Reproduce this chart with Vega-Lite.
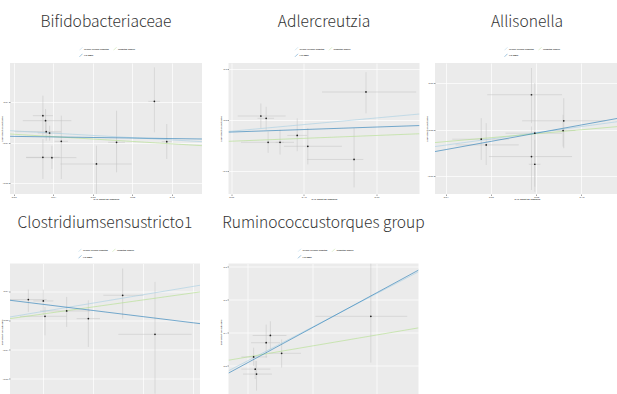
{
  "$schema": "https://vega.github.io/schema/vega-lite/v6.json",
  "padding": {"left": 1, "top": 14, "right": 0, "bottom": 0},
  "datasets": {
    "p1": [
      {"x": 0.03475, "y": 0.0033, "xlo": 0.02966, "xhi": 0.03983, "ylo": -0.0066, "yhi": 0.0132},
      {"x": 0.0361, "y": 0.000825, "xlo": 0.02458, "xhi": 0.04915, "ylo": -0.00495, "yhi": 0.0066},
      {"x": 0.03644, "y": -0.00462, "xlo": 0.02034, "xhi": 0.04407, "ylo": -0.00908, "yhi": 0},
      {"x": 0.03814, "y": -0.00528, "xlo": 0.0322, "xhi": 0.04407, "ylo": -0.00908, "yhi": -0.00165},
      {"x": 0.04407, "y": -0.00941, "xlo": 0.04068, "xhi": 0.04746, "ylo": -0.02805, "yhi": 0.0033},
      {"x": 0.03475, "y": -0.01733, "xlo": 0.02627, "xhi": 0.04322, "ylo": -0.02805, "yhi": -0.00825},
      {"x": 0.03932, "y": -0.01749, "xlo": 0.02627, "xhi": 0.0517, "ylo": -0.0231, "yhi": -0.01155},
      {"x": 0.06187, "y": -0.02063, "xlo": 0.04373, "xhi": 0.07966, "ylo": -0.0355, "yhi": -0.01155},
      {"x": 0.07204, "y": -0.0099, "xlo": 0.0678, "xhi": 0.07627, "ylo": -0.02475, "yhi": 0.005775},
      {"x": 0.09119, "y": 0.0104, "xlo": 0.08814, "xhi": 0.09407, "ylo": -0.00495, "yhi": 0.027225},
      {"x": 0.09746, "y": -0.00957, "xlo": 0.09492, "xhi": 0.1, "ylo": -0.01815, "yhi": -0.000825}
    ],
    "p1l": [
      {"method": "Inverse variance weighted", "x1": 0.01814, "y1": -0.00413, "x2": 0.11526, "y2": -0.00957},
      {"method": "Weighted median", "x1": 0.01814, "y1": -0.00578, "x2": 0.11526, "y2": -0.01155},
      {"method": "MR Egger", "x1": 0.01814, "y1": -0.00693, "x2": 0.11526, "y2": -0.00825}
    ],
    "p2": [
      {"x": 0.0909, "y": 0.01558, "xlo": 0.0591, "xhi": 0.125, "ylo": -0.0325, "yhi": 0.0649},
      {"x": 0.0982, "y": 0.00649, "xlo": 0.0864, "xhi": 0.1091, "ylo": -0.039, "yhi": 0.0519},
      {"x": 0.1009, "y": -0.08831, "xlo": 0.0636, "xhi": 0.1364, "ylo": -0.1299, "yhi": -0.0455},
      {"x": 0.1173, "y": -0.08831, "xlo": 0.1114, "xhi": 0.1227, "ylo": -0.1364, "yhi": -0.039},
      {"x": 0.1409, "y": -0.06104, "xlo": 0.1273, "xhi": 0.1545, "ylo": -0.1234, "yhi": 0.0065},
      {"x": 0.1555, "y": -0.1039, "xlo": 0.1227, "xhi": 0.2023, "ylo": -0.1753, "yhi": -0.0325},
      {"x": 0.2191, "y": -0.15584, "xlo": 0.1545, "xhi": 0.2318, "ylo": -0.2662, "yhi": -0.0325},
      {"x": 0.2355, "y": 0.11039, "xlo": 0.175, "xhi": 0.3045, "ylo": 0.026, "yhi": 0.1883}
    ],
    "p2l": [
      {"method": "Inverse variance weighted", "x1": 0.0464, "y1": -0.0455, "x2": 0.3091, "y2": 0.0234},
      {"method": "Weighted median", "x1": 0.0464, "y1": -0.0844, "x2": 0.3091, "y2": -0.0545},
      {"method": "MR Egger", "x1": 0.0464, "y1": -0.0481, "x2": 0.3091, "y2": -0.0221}
    ],
    "p3": [
      {"x": 0.05573, "y": -0.00403, "xlo": 0.04294, "xhi": 0.06793, "ylo": -0.01295, "yhi": 0.00504},
      {"x": 0.05793, "y": -0.00648, "xlo": 0.04441, "xhi": 0.07234, "ylo": -0.01511, "yhi": 0.00288},
      {"x": 0.07793, "y": 0.01511, "xlo": 0.05838, "xhi": 0.09145, "ylo": 0.00288, "yhi": 0.02662},
      {"x": 0.07793, "y": -0.01151, "xlo": 0.05911, "xhi": 0.09586, "ylo": -0.0259, "yhi": 0.00144},
      {"x": 0.0794, "y": -0.00144, "xlo": 0.06646, "xhi": 0.09145, "ylo": -0.02446, "yhi": 0.02015},
      {"x": 0.0794, "y": -0.01482, "xlo": 0.07675, "xhi": 0.0819, "ylo": -0.02662, "yhi": -0.00432},
      {"x": 0.09219, "y": 0.00389, "xlo": 0.07381, "xhi": 0.11056, "ylo": -0.00791, "yhi": 0.01367},
      {"x": 0.09189, "y": -0.00029, "xlo": 0.08704, "xhi": 0.09733, "ylo": -0.0072, "yhi": 0.00648}
    ],
    "p3l": [
      {"method": "Inverse variance weighted", "x1": 0.0353, "y1": -0.0072, "x2": 0.11659, "y2": 0.0036},
      {"method": "Weighted median", "x1": 0.0353, "y1": -0.00547, "x2": 0.11659, "y2": 0.00144},
      {"method": "MR Egger", "x1": 0.0353, "y1": -0.00935, "x2": 0.11659, "y2": 0.00504}
    ],
    "p4": [
      {"x": 0.051, "y": 0.00707, "xlo": 0.04, "xhi": 0.062, "ylo": 0.00285, "yhi": 0.01049},
      {"x": 0.06, "y": 0.00661, "xlo": 0.054, "xhi": 0.066, "ylo": 0.00171, "yhi": 0.01049},
      {"x": 0.061, "y": 0.00137, "xlo": 0.046, "xhi": 0.074, "ylo": -0.00513, "yhi": 0.00456},
      {"x": 0.074, "y": 0.00319, "xlo": 0.058, "xhi": 0.088, "ylo": -0.00228, "yhi": 0.00798},
      {"x": 0.087, "y": 0.00057, "xlo": 0.08, "xhi": 0.094, "ylo": -0.00912, "yhi": 0.00684},
      {"x": 0.1076, "y": 0.00855, "xlo": 0.096, "xhi": 0.12, "ylo": 0.00057, "yhi": 0.01767},
      {"x": 0.127, "y": -0.00479, "xlo": 0.105, "xhi": 0.149, "ylo": -0.02508, "yhi": 0.01311}
    ],
    "p4l": [
      {"method": "Inverse variance weighted", "x1": 0.04, "y1": 0.00114, "x2": 0.154, "y2": 0.01197},
      {"method": "Weighted median", "x1": 0.04, "y1": 0.00057, "x2": 0.154, "y2": 0.00969},
      {"method": "MR Egger", "x1": 0.04, "y1": 0.00684, "x2": 0.154, "y2": -0.00114}
    ],
    "p5": [
      {"x": 0.009, "y": 0.027, "xlo": -0.01, "xhi": 0.03, "ylo": 0, "yhi": 0.055},
      {"x": 0.0115, "y": -0.01, "xlo": -0.01, "xhi": 0.035, "ylo": -0.04, "yhi": 0.015},
      {"x": 0.0135, "y": -0.025, "xlo": -0.0075, "xhi": 0.0375, "ylo": -0.075, "yhi": 0.015},
      {"x": 0.0285, "y": 0.07, "xlo": 0.005, "xhi": 0.05, "ylo": 0.025, "yhi": 0.125},
      {"x": 0.035, "y": 0.092, "xlo": 0.0075, "xhi": 0.06, "ylo": 0.05, "yhi": 0.135},
      {"x": 0.0525, "y": 0.038, "xlo": 0.0325, "xhi": 0.0825, "ylo": -0.005, "yhi": 0.08},
      {"x": 0.191, "y": 0.15, "xlo": 0.105, "xhi": 0.2475, "ylo": 0.01, "yhi": 0.31}
    ],
    "p5l": [
      {"method": "Inverse variance weighted", "x1": -0.03, "y1": -0.015, "x2": 0.265, "y2": 0.285},
      {"method": "Weighted median", "x1": -0.03, "y1": 0.017, "x2": 0.265, "y2": 0.115},
      {"method": "MR Egger", "x1": -0.03, "y1": -0.022, "x2": 0.265, "y2": 0.29}
    ]
  },
  "vconcat": [
    {
      "hconcat": [
        {
          "width": 192, "height": 131,
          "title": {"text": "Bifidobacteriaceae"},
          "layer": [
            {"data": {"name": "p1"}, "mark": {"type": "rule", "color": "#c2c2c2", "strokeWidth": 0.5, "clip": true},
             "encoding": {
               "x": {"field": "xlo", "type": "quantitative", "scale": {"domain": [0.0181, 0.1153], "nice": false, "zero": false}, "axis": {"values": [0.02, 0.04, 0.06, 0.08, 0.1], "title": "SNP effect on exposure"}},
               "x2": {"field": "xhi"},
               "y": {"field": "y", "type": "quantitative", "scale": {"domain": [-0.0355, 0.0294], "nice": false, "zero": false}, "axis": {"values": [-0.03, -0.02, -0.01, 0, 0.01, 0.02], "title": "SNP effect on outcome"}}}},
            {"data": {"name": "p1"}, "mark": {"type": "rule", "color": "#c2c2c2", "strokeWidth": 0.5, "clip": true},
             "encoding": {"x": {"field": "x", "type": "quantitative"}, "y": {"field": "ylo", "type": "quantitative"}, "y2": {"field": "yhi"}}},
            {"data": {"name": "p1l"}, "mark": {"type": "rule", "strokeWidth": 0.7, "opacity": 0.85, "clip": true},
             "encoding": {"x": {"field": "x1", "type": "quantitative"}, "x2": {"field": "x2"}, "y": {"field": "y1", "type": "quantitative"}, "y2": {"field": "y2"},
               "color": {"field": "method", "type": "nominal", "scale": {"domain": ["Inverse variance weighted", "Weighted median", "MR Egger"], "range": ["#a6cee3", "#b2df8a", "#1f78b4"]}, "legend": {"legendX": 69, "legendY": -16.5}}}},
            {"data": {"name": "p1"}, "mark": {"type": "point", "filled": true, "size": 3, "color": "#222222", "opacity": 1},
             "encoding": {"x": {"field": "x", "type": "quantitative"}, "y": {"field": "y", "type": "quantitative"}}}
          ]
        },
        {
          "hconcat": [
            {
              "width": 191, "height": 131,
              "title": {"text": "Adlercreutzia"},
              "layer": [
                {"data": {"name": "p2"}, "mark": {"type": "rule", "color": "#c2c2c2", "strokeWidth": 0.5, "clip": true},
                 "encoding": {
                   "x": {"field": "xlo", "type": "quantitative", "scale": {"domain": [0.0464, 0.3091], "nice": false, "zero": false}, "axis": {"values": [0.05, 0.1, 0.15, 0.2, 0.25, 0.3], "title": "SNP effect on exposure"}},
                   "x2": {"field": "xhi"},
                   "y": {"field": "y", "type": "quantitative", "scale": {"domain": [-0.2922, 0.2247], "nice": false, "zero": false}, "axis": {"values": [-0.2, -0.1, 0, 0.1, 0.2], "title": "SNP effect on outcome"}}}},
                {"data": {"name": "p2"}, "mark": {"type": "rule", "color": "#c2c2c2", "strokeWidth": 0.5, "clip": true},
                 "encoding": {"x": {"field": "x", "type": "quantitative"}, "y": {"field": "ylo", "type": "quantitative"}, "y2": {"field": "yhi"}}},
                {"data": {"name": "p2l"}, "mark": {"type": "rule", "strokeWidth": 0.7, "opacity": 0.85, "clip": true},
                 "encoding": {"x": {"field": "x1", "type": "quantitative"}, "x2": {"field": "x2"}, "y": {"field": "y1", "type": "quantitative"}, "y2": {"field": "y2"},
                   "color": {"field": "method", "type": "nominal", "scale": {"domain": ["Inverse variance weighted", "Weighted median", "MR Egger"], "range": ["#a6cee3", "#b2df8a", "#1f78b4"]}, "legend": {"legendX": 66, "legendY": -16.5}}}},
                {"data": {"name": "p2"}, "mark": {"type": "point", "filled": true, "size": 3, "color": "#222222", "opacity": 1},
                 "encoding": {"x": {"field": "x", "type": "quantitative"}, "y": {"field": "y", "type": "quantitative"}}}
              ]
            },
            {
              "width": 184, "height": 131,
              "title": {"text": "Allisonella"},
              "layer": [
                {"data": {"name": "p3"}, "mark": {"type": "rule", "color": "#c2c2c2", "strokeWidth": 0.5, "clip": true},
                 "encoding": {
                   "x": {"field": "xlo", "type": "quantitative", "scale": {"domain": [0.0353, 0.1166], "nice": false, "zero": false}, "axis": {"values": [0.04, 0.06, 0.08, 0.1], "title": "SNP effect on exposure"}},
                   "x2": {"field": "xhi"},
                   "y": {"field": "y", "type": "quantitative", "scale": {"domain": [-0.02763, 0.02878], "nice": false, "zero": false}, "axis": {"values": [-0.02, -0.01, 0, 0.01, 0.02], "title": "SNP effect on outcome"}}}},
                {"data": {"name": "p3"}, "mark": {"type": "rule", "color": "#c2c2c2", "strokeWidth": 0.5, "clip": true},
                 "encoding": {"x": {"field": "x", "type": "quantitative"}, "y": {"field": "ylo", "type": "quantitative"}, "y2": {"field": "yhi"}}},
                {"data": {"name": "p3l"}, "mark": {"type": "rule", "strokeWidth": 0.7, "opacity": 0.85, "clip": true},
                 "encoding": {"x": {"field": "x1", "type": "quantitative"}, "x2": {"field": "x2"}, "y": {"field": "y1", "type": "quantitative"}, "y2": {"field": "y2"},
                   "color": {"field": "method", "type": "nominal", "scale": {"domain": ["Inverse variance weighted", "Weighted median", "MR Egger"], "range": ["#a6cee3", "#b2df8a", "#1f78b4"]}, "legend": {"legendX": 69, "legendY": -16.5}}}},
                {"data": {"name": "p3"}, "mark": {"type": "point", "filled": true, "size": 3, "color": "#222222", "opacity": 1},
                 "encoding": {"x": {"field": "x", "type": "quantitative"}, "y": {"field": "y", "type": "quantitative"}}}
              ]
            }
          ],
          "spacing": 6.5,
          "resolve": {"scale": {"color": "independent", "x": "independent", "y": "independent"}, "legend": {"color": "independent"}}
        }
      ],
      "spacing": 17.5,
      "resolve": {"scale": {"color": "independent", "x": "independent", "y": "independent"}, "legend": {"color": "independent"}}
    },
    {
      "hconcat": [
        {
          "width": 190, "height": 137,
          "title": {"text": "Clostridiumsensustricto1"},
          "layer": [
            {"data": {"name": "p4"}, "mark": {"type": "rule", "color": "#c2c2c2", "strokeWidth": 0.5, "clip": true},
             "encoding": {
               "x": {"field": "xlo", "type": "quantitative", "scale": {"domain": [0.04, 0.154], "nice": false, "zero": false}, "axis": {"values": [0.06, 0.09, 0.12, 0.15], "labels": false, "title": null}},
               "x2": {"field": "xhi"},
               "y": {"field": "y", "type": "quantitative", "scale": {"domain": [-0.0274, 0.0194], "nice": false, "zero": false}, "axis": {"values": [-0.02, -0.01, 0, 0.01], "title": "SNP effect on outcome"}}}},
            {"data": {"name": "p4"}, "mark": {"type": "rule", "color": "#c2c2c2", "strokeWidth": 0.5, "clip": true},
             "encoding": {"x": {"field": "x", "type": "quantitative"}, "y": {"field": "ylo", "type": "quantitative"}, "y2": {"field": "yhi"}}},
            {"data": {"name": "p4l"}, "mark": {"type": "rule", "strokeWidth": 0.7, "opacity": 0.85, "clip": true},
             "encoding": {"x": {"field": "x1", "type": "quantitative"}, "x2": {"field": "x2"}, "y": {"field": "y1", "type": "quantitative"}, "y2": {"field": "y2"},
               "color": {"field": "method", "type": "nominal", "scale": {"domain": ["Inverse variance weighted", "Weighted median", "MR Egger"], "range": ["#a6cee3", "#b2df8a", "#1f78b4"]}, "legend": {"legendX": 68, "legendY": -15.5}}}},
            {"data": {"name": "p4"}, "mark": {"type": "point", "filled": true, "size": 3, "color": "#222222", "opacity": 1},
             "encoding": {"x": {"field": "x", "type": "quantitative"}, "y": {"field": "y", "type": "quantitative"}}}
          ]
        },
        {
          "width": 190, "height": 137,
          "title": {"text": "Ruminococcustorques group"},
          "layer": [
            {"data": {"name": "p5"}, "mark": {"type": "rule", "color": "#c2c2c2", "strokeWidth": 0.5, "clip": true},
             "encoding": {
               "x": {"field": "xlo", "type": "quantitative", "scale": {"domain": [-0.03, 0.265], "nice": false, "zero": false}, "axis": {"values": [0, 0.05, 0.1, 0.15, 0.2, 0.25], "labels": false, "title": null}},
               "x2": {"field": "xhi"},
               "y": {"field": "y", "type": "quantitative", "scale": {"domain": [-0.105, 0.31], "nice": false, "zero": false}, "axis": {"values": [0, 0.1, 0.2, 0.3], "title": "SNP effect on outcome"}}}},
            {"data": {"name": "p5"}, "mark": {"type": "rule", "color": "#c2c2c2", "strokeWidth": 0.5, "clip": true},
             "encoding": {"x": {"field": "x", "type": "quantitative"}, "y": {"field": "ylo", "type": "quantitative"}, "y2": {"field": "yhi"}}},
            {"data": {"name": "p5l"}, "mark": {"type": "rule", "strokeWidth": 0.7, "opacity": 0.85, "clip": true},
             "encoding": {"x": {"field": "x1", "type": "quantitative"}, "x2": {"field": "x2"}, "y": {"field": "y1", "type": "quantitative"}, "y2": {"field": "y2"},
               "color": {"field": "method", "type": "nominal", "scale": {"domain": ["Inverse variance weighted", "Weighted median", "MR Egger"], "range": ["#a6cee3", "#b2df8a", "#1f78b4"]}, "legend": {"legendX": 69, "legendY": -15.5}}}},
            {"data": {"name": "p5"}, "mark": {"type": "point", "filled": true, "size": 3, "color": "#222222", "opacity": 1},
             "encoding": {"x": {"field": "x", "type": "quantitative"}, "y": {"field": "y", "type": "quantitative"}}}
          ]
        }
      ],
      "spacing": 19.5,
      "resolve": {"scale": {"color": "independent", "x": "independent", "y": "independent"}, "legend": {"color": "independent"}}
    }
  ],
  "spacing": 14.5,
  "resolve": {"scale": {"color": "independent", "x": "independent", "y": "independent"}, "legend": {"color": "independent"}},
  "config": {
    "view": {"fill": "#ebebeb", "stroke": null},
    "axis": {"grid": true, "gridColor": "#ffffff", "gridWidth": 0.7, "domain": false, "tickSize": 1.5, "tickColor": "#444444", "tickWidth": 0.5, "labelFontSize": 2.5, "labelColor": "#4d4d4d", "labelPadding": 0.5, "titleFontSize": 2.5, "titleFontWeight": "normal", "titleColor": "#000000", "titlePadding": 1, "labelFont": "Lato", "titleFont": "Lato"},
    "axisY": {"minExtent": 5, "maxExtent": 5},
    "axisX": {"minExtent": 3, "maxExtent": 3},
    "title": {"font": "Noto Sans CJK SC", "fontSize": 15.6, "fontWeight": 300, "color": "#333333", "frame": "group", "anchor": "middle", "offset": 16},
    "legend": {"orient": "none", "direction": "horizontal", "columns": 2, "title": "MR Test", "titleFontSize": 2.2, "titleFontWeight": "normal", "titleColor": "#000000", "titlePadding": 1, "labelFontSize": 2.2, "labelColor": "#000000", "labelFont": "Lato", "titleFont": "Lato", "symbolType": "M-1,1L1,-1", "symbolSize": 9, "symbolStrokeWidth": 0.5, "columnPadding": 3, "rowPadding": 0.8, "labelOffset": 1, "labelLimit": 100, "padding": 0}
  }
}
